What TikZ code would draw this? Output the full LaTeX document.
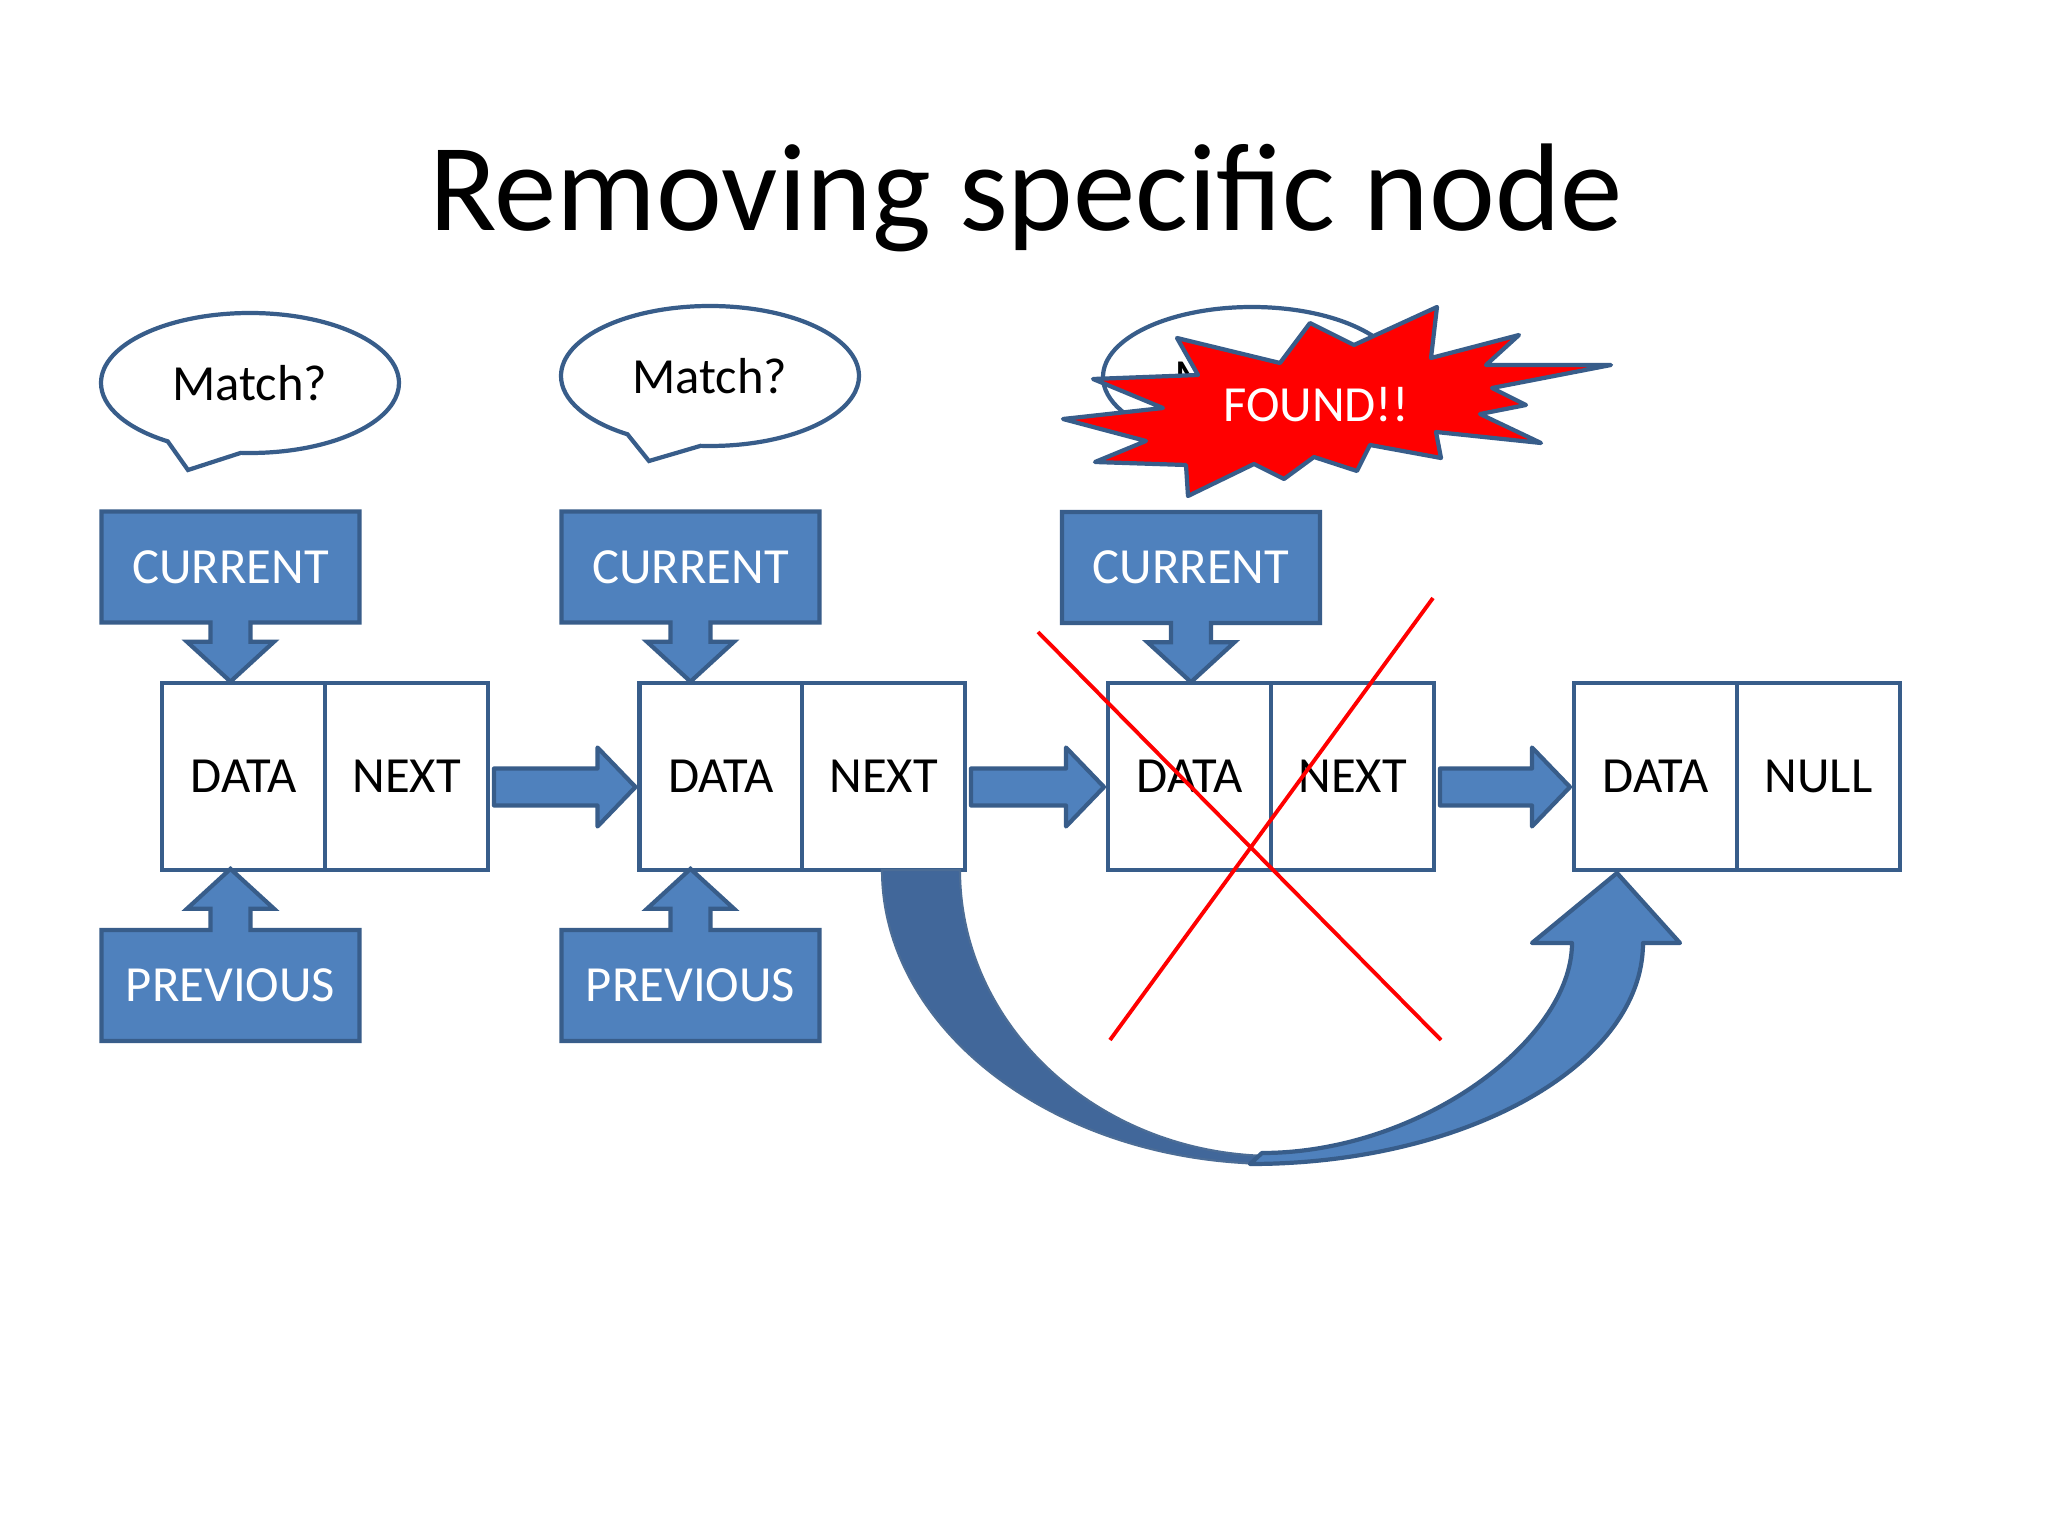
\documentclass[tikz,border=0pt]{standalone}
\usepackage{fontspec}
\setmainfont{Carlito}
\usepackage{tikz}
\usetikzlibrary{calc,shapes.arrows,shapes.callouts}
\definecolor{boxblue}{HTML}{4F81BD}
\definecolor{edgeblue}{HTML}{385D8A}
\definecolor{backblue}{HTML}{41679A}
\newcommand{\hop}[2]{\draw[hoparrow] ($(#1.east)+(0.06,0.08)$) -- ($(#2.west)+(-0.42,0.08)$) -- ($(#2.west)+(-0.42,0.29)$) -- ($(#2.west)+(-0.04,-0.105)$) -- ($(#2.west)+(-0.42,-0.50)$) -- ($(#2.west)+(-0.42,-0.29)$) -- ($(#1.east)+(0.06,-0.29)$) -- cycle;}

\begin{document}
\begin{tikzpicture}[
    cell/.style={draw=edgeblue, line width=1.2pt, fill=white, minimum width=1.63cm, minimum height=1.87cm, inner sep=0pt, outer sep=0pt, font=\fontsize{14.4}{17}\selectfont},
    pointer/.style={arrow box, draw=edgeblue, fill=boxblue, line width=1.2pt, text=white, minimum width=2.58cm, minimum height=1.11cm, inner sep=0pt, arrow box shaft width=0.40cm, arrow box head extend=0.235cm, arrow box tip angle=95, font=\fontsize{14.4}{17}\selectfont},
    bubble/.style={ellipse callout, draw=edgeblue, fill=white, line width=1.2pt, minimum width=2.98cm, minimum height=1.40cm, inner sep=0pt, callout pointer arc=30, font=\fontsize{14.4}{17}\selectfont},
    hoparrow/.style={draw=edgeblue, fill=boxblue, line width=1.2pt, line join=round},
    burst/.style={draw=edgeblue, fill=red, line width=1.2pt, line join=round},
    cross/.style={red, line width=1.1pt}
]
    \path[use as bounding box, fill=white] (0,0) rectangle (20.48,-15.36);
    \node [anchor=base] (title) at (10.26,-2.31) {\fontsize{35.5}{42}\selectfont Removing specific node};

    % speech bubbles
    \node [bubble, callout absolute pointer={(1.88,-4.70)}] (ask1) at (2.50,-3.83) {Match?};
    \node [bubble, callout absolute pointer={(6.49,-4.61)}] (ask2) at (7.10,-3.76) {Match?};
    \node [bubble, callout absolute pointer={(11.90,-4.64)}] (ask3) at (12.52,-3.77) {Match?};

    % explosion
    \draw [burst] (10.63,-4.19) -- (11.63,-4.08) -- (10.93,-3.79) -- (11.98,-3.75) -- (11.77,-3.38) -- (12.80,-3.63) -- (13.10,-3.23)
        -- (13.54,-3.45) -- (14.37,-3.07) -- (14.31,-3.58) -- (15.19,-3.35) -- (14.86,-3.65) -- (16.11,-3.65) -- (14.92,-3.88)
        -- (15.26,-4.05) -- (14.80,-4.14) -- (15.41,-4.43) -- (14.36,-4.32) -- (14.41,-4.58) -- (13.70,-4.45) -- (13.57,-4.71)
        -- (13.14,-4.57) -- (12.84,-4.79) -- (12.54,-4.64) -- (11.88,-4.96) -- (11.86,-4.65) -- (10.95,-4.62) -- (11.46,-4.41) -- cycle;
    \node [text=white, font=\fontsize{14.4}{17}\selectfont] (found) at (13.16,-4.05) {FOUND!!};

    % list nodes
    \node [cell] (data1) at (2.435,-7.765) {DATA};
    \node [cell] (next1) at (4.065,-7.765) {NEXT};
    \node [cell] (data2) at (7.21,-7.765) {DATA};
    \node [cell] (next2) at (8.835,-7.765) {NEXT};
    \node [cell] (data3) at (11.895,-7.765) {DATA};
    \node [cell] (next3) at (13.525,-7.765) {NEXT};
    \node [cell] (data4) at (16.555,-7.765) {DATA};
    \node [cell] (next4) at (18.185,-7.765) {NULL};

    \hop{next1}{data2}
    \hop{next2}{data3}
    \hop{next3}{data4}

    % pointers
    \node [pointer, arrow box arrows={south:0.57cm from border}] (cur1) at (2.305,-5.67) {CURRENT};
    \node [pointer, arrow box arrows={south:0.57cm from border}] (cur2) at (6.905,-5.67) {CURRENT};
    \node [pointer, arrow box arrows={south:0.57cm from border}] (cur3) at (11.91,-5.675) {CURRENT};
    \node [pointer, arrow box arrows={north:0.59cm from border}] (prev1) at (2.305,-9.855) {PREVIOUS};
    \node [pointer, arrow box arrows={north:0.59cm from border}] (prev2) at (6.905,-9.855) {PREVIOUS};

    % skip arrow
    \coordinate (low) at (12.70,-11.60);
    \coordinate (tipc) at ($(data4.south)+(-0.385,-0.03)$);
    \fill [backblue, draw=edgeblue!90, line width=0.6pt] ($(next2.south)+(-0.015,0)$) .. controls +(0,-1.60) and +(-2.19,0) .. ($(low)+(0.05,-0.04)$)
        -- ($(low)+(0.05,0.04)$) .. controls +(-1.75,0) and +(0,-1.57) .. ($(next2.south)+(0.765,0)$) -- cycle;
    \draw [hoparrow] ($(low)+(-0.20,-0.04)$) .. controls +(2.17,0) and +(0,-1.21) .. ($(tipc)+(0.26,-0.70)$) -- ($(tipc)+(0.63,-0.70)$)
        -- (tipc) -- ($(tipc)+(-0.85,-0.70)$) -- ($(tipc)+(-0.45,-0.70)$) .. controls +(0,-0.97) and +(1.58,0) .. ($(low)+(-0.08,0.07)$) -- cycle;

    % crossed out
    \draw [cross] (10.38,-6.32) -- (14.41,-10.40);
    \draw [cross] (14.33,-5.98) -- (11.10,-10.40);
\end{tikzpicture}
\end{document}
